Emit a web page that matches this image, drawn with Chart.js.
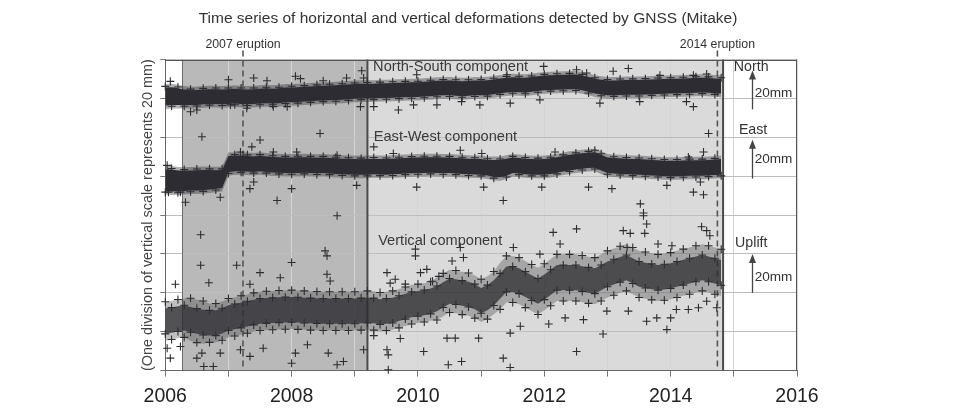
<!DOCTYPE html>
<html><head><meta charset="utf-8">
<script src="https://cdn.jsdelivr.net/npm/chart.js@4.4.1/dist/chart.umd.min.js"></script>
<style>html,body{margin:0;padding:0;background:#fff}#wrap{width:961px;height:408px}</style>
</head><body><div id="wrap"><canvas id="c" width="961" height="408"></canvas></div>
<script>
// ---------- DATA ----------
const titleText = 'Time series of horizontal and vertical deformations detected by GNSS (Mitake)';
const yAxisTitle = '(One division of vertical scale represents 20 mm)';
const xTickLabels = ['2006','2008','2010','2012','2014','2016'];

// sample epochs (decimal years)
const epochs = [
2006.0,2006.1,2006.2,2006.3,2006.4,2006.5,2006.6,2006.7,2006.8,2006.9,
2007.0,2007.1,2007.2,2007.3,2007.4,2007.5,2007.6,2007.7,2007.8,2007.9,
2008.0,2008.1,2008.2,2008.3,2008.4,2008.5,2008.6,2008.7,2008.8,2008.9,
2009.0,2009.1,2009.2,2009.3,2009.4,2009.5,2009.6,2009.7,2009.8,2009.9,
2010.0,2010.1,2010.2,2010.3,2010.4,2010.5,2010.6,2010.7,2010.8,2010.9,
2011.0,2011.1,2011.2,2011.3,2011.4,2011.5,2011.6,2011.7,2011.8,2011.9,
2012.0,2012.1,2012.2,2012.3,2012.4,2012.5,2012.6,2012.7,2012.8,2012.9,
2013.0,2013.1,2013.2,2013.3,2013.4,2013.5,2013.6,2013.7,2013.8,2013.9,
2014.0,2014.1,2014.2,2014.3,2014.4,2014.5,2014.6,2014.7,2014.8];

// North-South component: centre of the dense band and its half-width (mm, on the stacked scale)
const nsMid = [
141.0,141.2,141.0,140.6,140.4,140.5,140.8,141.0,141.0,140.8,
141.0,141.2,141.0,140.8,141.0,141.2,141.4,141.2,141.4,141.8,
141.9,142.0,142.2,142.4,142.6,142.8,142.9,143.0,143.2,143.4,
143.6,143.8,143.8,143.8,144.0,144.0,144.2,144.3,144.4,144.5,
144.5,144.8,145.0,145.3,145.4,145.4,145.2,145.0,145.2,145.4,
145.4,145.6,146.0,146.5,146.9,147.1,147.0,146.8,147.2,147.6,
148.0,148.2,148.3,148.4,148.5,148.5,148.0,147.2,146.3,145.8,
145.4,145.5,145.6,145.7,145.7,145.7,145.8,146.0,146.1,146.2,
146.3,146.4,146.5,146.6,146.8,146.9,146.7,146.5,146.3];
const nsSpread = [
4.6,4.6,4.3,4.0,3.8,3.8,3.8,3.8,3.8,3.8,
3.8,3.8,3.8,3.8,3.8,3.8,3.8,3.8,3.8,3.8,
3.8,3.8,3.8,3.8,3.8,3.8,3.8,3.8,3.8,3.8,
3.8,3.8,3.8,3.8,3.8,3.8,3.8,3.8,3.8,3.8,
3.8,3.8,3.8,3.8,3.8,3.8,3.8,3.8,3.8,3.8,
3.8,3.8,3.8,3.8,3.8,3.8,3.8,3.8,3.8,3.8,
3.8,3.8,3.8,3.8,3.8,3.8,3.8,3.8,3.8,3.8,
3.8,3.8,3.8,3.8,3.8,3.8,3.8,3.8,3.8,3.8,
3.8,3.8,3.8,3.8,3.8,3.8,3.8,3.8,3.8];
const nsOutliers = [
[2006.08,148.8],[2007.0,149.6],[2007.40,150.5],[2007.61,149.1],[2008.06,151.4],[2008.14,150.2],
[2008.50,149.1],[2008.87,150.5],[2009.11,154.3],[2009.14,150.5],[2009.98,152.2],
[2006.40,133.2],[2006.50,134.1],[2007.03,136.7],[2007.29,135.0],[2007.71,135.8],[2007.93,135.8],
[2009.09,135.8],[2009.30,135.8],[2009.69,134.1],[2009.93,136.7],[2010.30,136.7],
[2006.58,120.3],[2008.45,122.0],
[2011.99,156.5],[2012.51,154.8],[2012.67,153.1],[2013.09,154.0],[2013.33,155.4],[2011.41,152.2],
[2013.83,151.9],[2014.57,152.6],[2014.36,151.9],
[2010.98,136.7],[2011.46,137.6],[2011.93,139.3],[2012.88,137.6],[2013.51,138.4],[2014.25,138.4],
[2014.36,135.8],[2010.69,138.4],[2014.60,122.0]];

// East-West component
const ewMid = [
98.0,97.8,97.5,97.6,97.8,97.9,98.0,98.2,98.3,98.6,
106.2,106.5,106.6,106.4,106.2,106.5,106.2,105.9,105.8,105.6,
105.6,105.7,105.8,105.6,105.5,105.6,105.4,105.2,105.0,104.9,
104.8,104.7,104.8,105.0,104.9,104.8,105.0,105.2,105.4,105.5,
105.6,105.7,105.8,105.7,105.6,105.6,105.4,105.2,105.0,104.9,
104.8,104.4,104.0,103.9,104.6,105.6,105.4,105.0,104.8,104.7,
104.8,105.2,105.8,106.4,107.0,107.4,107.8,108.2,108.3,107.0,
105.6,105.4,105.2,105.0,104.9,104.8,104.6,104.4,104.2,104.0,
103.9,104.0,104.1,104.2,104.2,104.2,104.4,104.6,104.8];
const ewSpread = [
5.6,5.6,5.4,5.2,5.2,5.2,5.2,5.0,4.8,4.6,
4.2,4.0,4.0,4.0,4.0,4.0,4.0,4.0,4.0,4.0,
4.0,4.0,4.0,4.0,4.0,4.0,4.0,4.0,4.0,4.0,
4.0,4.0,4.0,4.0,4.0,4.0,4.0,4.0,4.0,4.0,
4.0,4.0,4.0,4.0,4.0,4.0,4.0,4.0,4.0,4.0,
4.0,4.0,4.4,4.4,4.4,4.0,4.0,4.0,4.0,4.0,
4.0,4.0,4.0,4.0,4.0,4.0,4.0,4.0,4.0,4.0,
4.0,4.0,4.0,4.0,4.0,4.0,4.0,4.0,4.0,4.0,
4.0,4.0,4.0,4.0,4.0,4.0,4.0,4.0,4.0];
const ewOutliers = [
[2006.03,105.6],[2007.19,112.5],[2007.37,115.1],[2007.50,118.6],[2007.71,112.5],[2008.08,112.5],
[2008.72,110.8],[2009.30,115.1],[2009.61,111.7],
[2006.32,86.6],[2006.87,89.2],[2007.34,93.6],[2007.40,97.0],[2007.77,87.5],[2008.0,93.6],
[2009.03,95.3],[2009.98,94.4],[2006.05,91.8],[2006.24,91.8],
[2010.67,113.4],[2011.01,111.7],[2012.17,112.5],[2012.80,113.4],[2014.52,112.5],[2014.28,109.9],
[2011.04,94.4],[2011.35,87.5],[2011.96,94.4],[2012.70,94.4],[2013.07,93.6],[2013.52,85.8],
[2013.57,81.1],[2014.36,91.8],[2014.52,90.5],[2013.94,95.3],[2014.47,97.0]];

// Vertical component
const vtMid = [
25.4,26.0,26.6,27.1,26.2,25.4,24.8,24.5,24.5,25.6,
27.1,27.8,28.5,29.2,30.0,30.6,30.8,31.0,31.2,31.3,
31.4,31.2,31.0,30.8,30.7,30.6,30.6,30.6,30.6,30.6,
30.6,30.8,31.0,30.8,30.2,30.6,31.0,32.0,33.0,34.0,
34.5,35.0,35.7,37.0,39.0,40.9,40.5,39.8,39.2,38.0,
36.0,37.5,40.0,43.5,47.0,47.0,46.1,44.4,42.6,40.9,
43.0,45.4,47.8,47.8,47.8,47.8,47.2,46.6,46.1,47.8,
49.6,50.8,52.0,53.0,51.3,49.6,49.0,48.4,47.8,48.2,
48.7,49.6,50.5,51.3,52.2,53.0,52.2,51.3,50.4];
const vtSpread = [
10,10,10,10,11,11,11,10,10,10,
10,10,10,10,10,10,10,10,10,10,
10,10,10,10,10,10,10,10,10,10,
10,10,10,10,10,10,10,10,10,10,
10,10,10,11,11,11,11,11,11,11,
11,11,11,12,12,12,12,12,12,12,
12,12,12,12,12,12,12,12,12,12,
12,12,12,12,12,12,12,12,12,12,
12,12,12,12,12,12,12,12,12];
const vtOutliers = [
[2006.56,69.9],[2006.56,54.2],[2007.13,54.2],[2006.69,45.2],[2006.16,44.4],[2008.0,55.6],
[2008.53,61.6],[2008.56,59.0],[2008.72,79.7],[2007.50,50.4],[2007.82,47.8],[2008.56,49.6],
[2008.61,46.1],[2009.51,50.4],[2009.96,62.5],[2009.96,59.0],[2010.04,50.4],[2010.14,52.1],[2007.34,44.4],
[2006.08,6.4],[2006.61,2.1],[2006.76,2.1],[2006.50,6.4],[2006.58,9.0],[2007.34,7.3],[2008.0,3.8],
[2008.06,9.0],[2008.72,3.0],[2008.82,4.7],[2008.58,9.0],[2009.53,0.4],[2009.53,8.1],[2009.51,10.7],
[2009.14,10.7],[2010.09,9.8],[2006.24,12.4],[2006.03,11.5],[2006.87,9.0],[2007.19,10.7],[2008.25,13.3],[2007.55,11.5],
[2010.67,63.3],[2010.72,58.2],[2010.54,56.4],[2011.51,63.3],[2012.14,71.1],[2012.51,72.9],[2012.25,65.1],
[2013.25,72.0],[2013.36,70.6],[2013.57,79.7],[2013.62,75.4],[2013.59,70.6],[2013.80,65.1],[2014.02,64.2],
[2014.49,74.0],[2014.57,72.0],[2014.62,69.4],[2013.31,63.3],[2011.93,59.9],
[2010.48,3.0],[2010.69,4.7],[2011.35,6.4],[2011.46,1.6],[2011.46,19.3],[2010.46,16.7],[2010.59,16.7],
[2010.96,16.7],[2011.62,22.8],[2012.07,24.0],[2012.51,9.8],[2012.93,18.8],[2013.62,25.4],[2013.78,27.1],
[2013.94,21.1],[2014.0,27.1],[2014.09,31.4],[2014.28,31.4],[2014.44,32.3],[2014.57,35.7],[2014.73,32.3],
[2012.62,26.2],[2012.33,27.1],[2012.99,30.6],[2013.33,30.6],
[2009.56,45.0],[2009.64,47.0],[2009.80,44.5],[2010.23,46.0],[2010.33,48.5],[2009.30,18.0],[2009.72,16.5]];

// periods and eruptions
const periodStart = [2006.27, 2009.2];
const periodEnd   = [2009.2, 2014.83];
const eruptionDates  = [2007.23, 2014.74];
const eruptionLabels = ['2007 eruption', '2014 eruption'];

// ---------- CHART ----------
const FONT = '"Liberation Sans", Arial, Helvetica, sans-serif';
Chart.defaults.font.family = FONT;
const INK = '#2d2d32';
const HALO = 1.8;     // soft edge width of the dense bands (mm)
const VT_CORE = 6.5;  // dense core of the vertical cloud (mm)

const edge = (mid, off, sign, add, parity) => epochs
  .map((t, i) => ({x: t, y: mid[i] + sign * ((off ? off[i] : 0) + add), i}))
  .filter(p => p.i % 2 === parity);
const bandPts = (mid, off, sign, add) => epochs.map((t, i) => ({x: t, y: mid[i] + sign * ((off ? off[i] : 0) + add)}));
const outPts = arr => arr.map(p => ({x: p[0], y: p[1]}));

function band(mid, off, add, color) {
  return [
    {data: bandPts(mid, off, -1, add), showLine: true, pointRadius: 0, borderWidth: 0, fill: false, order: 3},
    {data: bandPts(mid, off, 1, add), showLine: true, pointRadius: 0, borderWidth: 0, fill: '-1', backgroundColor: color, order: 3}
  ];
}
function crosses(data, r) {
  return {data, showLine: false, pointStyle: 'cross', pointRadius: r || 4, pointHoverRadius: r || 4,
          borderColor: INK, borderWidth: 1.1, clip: 6, order: 0};
}

const datasets = [
  ...band(nsMid, nsSpread, HALO, 'rgba(45,45,50,0.38)'),
  ...band(nsMid, nsSpread, 0, INK),
  crosses(edge(nsMid, nsSpread, 1, 0.6, 0)), crosses(edge(nsMid, nsSpread, -1, 0.6, 1)), crosses(outPts(nsOutliers)),
  ...band(ewMid, ewSpread, HALO, 'rgba(45,45,50,0.38)'),
  ...band(ewMid, ewSpread, 0, INK),
  crosses(edge(ewMid, ewSpread, 1, 0.6, 1)), crosses(edge(ewMid, ewSpread, -1, 0.6, 0)), crosses(outPts(ewOutliers)),
  ...band(vtMid, vtSpread, 0, 'rgba(45,45,50,0.3)'),
  ...band(vtMid, null, VT_CORE, 'rgba(45,45,50,0.75)'),
  crosses(edge(vtMid, vtSpread, 1, 0, 0)), crosses(edge(vtMid, vtSpread, -1, 0, 1)),
  crosses(edge(vtMid, null, 1, VT_CORE, 1)), crosses(edge(vtMid, null, -1, VT_CORE, 0)),
  crosses(outPts(vtOutliers))
];

function arrow(ctx, x, y0, y1) {
  ctx.beginPath(); ctx.moveTo(x, y0); ctx.lineTo(x, y1 + 6); ctx.stroke();
  ctx.beginPath(); ctx.moveTo(x, y1); ctx.lineTo(x - 3.5, y1 + 9); ctx.lineTo(x + 3.5, y1 + 9); ctx.closePath(); ctx.fill();
}

const deco = {
  id: 'deco',
  beforeDraw(chart) {
    const {ctx, chartArea: a, scales: {x}} = chart;
    ctx.save();
    const cols = ['#b9b9b9', '#dadada'];
    for (let i = 0; i < periodStart.length; i++) {
      const x0 = x.getPixelForValue(periodStart[i]), x1 = x.getPixelForValue(periodEnd[i]);
      ctx.fillStyle = cols[i];
      ctx.fillRect(x0, a.top, x1 - x0, a.bottom - a.top);
    }
    ctx.restore();
  },
  beforeDatasetsDraw(chart) {
    const {ctx, chartArea: a, scales: {x}} = chart;
    ctx.save();
    ctx.strokeStyle = '#6a6a6a'; ctx.lineWidth = 1;
    let px = Math.round(x.getPixelForValue(periodStart[0])) + 0.5;
    ctx.beginPath(); ctx.moveTo(px, a.top); ctx.lineTo(px, a.bottom); ctx.stroke();
    ctx.strokeStyle = '#4a4a4a'; ctx.lineWidth = 2;
    for (const t of [periodEnd[0], periodEnd[1]]) {
      px = x.getPixelForValue(t);
      ctx.beginPath(); ctx.moveTo(px, a.top); ctx.lineTo(px, a.bottom); ctx.stroke();
    }
    ctx.strokeStyle = '#555'; ctx.lineWidth = 1.6; ctx.setLineDash([6, 4]);
    ctx.fillStyle = '#333'; ctx.font = '12.3px ' + FONT; ctx.textAlign = 'center'; ctx.textBaseline = 'middle';
    eruptionDates.forEach((t, i) => {
      const ex = x.getPixelForValue(t);
      ctx.beginPath(); ctx.moveTo(ex, a.top - 9); ctx.lineTo(ex, a.bottom); ctx.stroke();
      ctx.fillText(eruptionLabels[i], ex, a.top - 15);
    });
    ctx.restore();
  },
  afterDatasetsDraw(chart) {
    const {ctx, chartArea: a, scales: {x, y}} = chart;
    ctx.save();
    ctx.strokeStyle = '#555'; ctx.lineWidth = 1;
    ctx.beginPath();
    ctx.moveTo(a.left, Math.round(a.top) + 0.5); ctx.lineTo(a.right, Math.round(a.top) + 0.5);
    ctx.moveTo(Math.round(a.right) - 0.5, a.top); ctx.lineTo(Math.round(a.right) - 0.5, a.bottom);
    ctx.stroke();
    ctx.fillStyle = '#3a3a3a'; ctx.textAlign = 'left'; ctx.textBaseline = 'middle';
    ctx.font = '14.6px ' + FONT;
    ctx.fillText('North-South component', x.getPixelForValue(2009.29), y.getPixelForValue(156.4));
    ctx.fillText('East-West component', x.getPixelForValue(2009.30), y.getPixelForValue(120.1));
    ctx.fillText('Vertical component', x.getPixelForValue(2009.37), y.getPixelForValue(66.8));
    ctx.font = '14.2px ' + FONT; ctx.fillStyle = '#333';
    ctx.fillText('North', x.getPixelForValue(2015.0), y.getPixelForValue(156.1));
    ctx.fillText('East', x.getPixelForValue(2015.08), y.getPixelForValue(123.8));
    ctx.fillText('Uplift', x.getPixelForValue(2015.02), y.getPixelForValue(65.8));
    ctx.font = '13.6px ' + FONT;
    ctx.fillText('20mm', x.getPixelForValue(2015.33), y.getPixelForValue(142.9));
    ctx.fillText('20mm', x.getPixelForValue(2015.33), y.getPixelForValue(108.7));
    ctx.fillText('20mm', x.getPixelForValue(2015.33), y.getPixelForValue(48.2));
    ctx.strokeStyle = '#444'; ctx.fillStyle = '#444'; ctx.lineWidth = 1.3;
    const ax = Math.round(x.getPixelForValue(2015.29)) + 0.5;
    arrow(ctx, ax, y.getPixelForValue(134.4), y.getPixelForValue(154.4));
    arrow(ctx, ax, y.getPixelForValue(98.8), y.getPixelForValue(118.8));
    arrow(ctx, ax, y.getPixelForValue(40.0), y.getPixelForValue(60.0));
    ctx.restore();
  }
};

new Chart(document.getElementById('c'), {
  type: 'scatter',
  data: {datasets},
  options: {
    responsive: false, animation: false, devicePixelRatio: 1,
    events: [],
    layout: {padding: {left: 139, right: 164, top: 0, bottom: -8}},
    plugins: {
      legend: {display: false}, tooltip: {enabled: false},
      title: {display: true, text: titleText, color: '#333', font: {size: 15.5, weight: 'normal', family: FONT},
              padding: {top: 9, bottom: 32}}
    },
    scales: {
      x: {
        type: 'linear', min: 2006, max: 2016,
        ticks: {stepSize: 1, autoSkip: false, maxRotation: 0, padding: 8, color: '#222',
                font: {size: 19.5, family: FONT},
                callback: v => { const s = String(Math.round(v)); return xTickLabels.includes(s) ? s : ''; }},
        grid: {color: '#d4d4d4', lineWidth: 1, tickLength: 6, tickColor: '#777'},
        border: {display: true, color: '#666', width: 1}
      },
      y: {
        min: 0, max: 160,
        ticks: {stepSize: 20, display: false},
        grid: {color: '#bdbdbd', lineWidth: 1, tickLength: 5, tickColor: '#777'},
        border: {display: true, color: '#666', width: 1},
        title: {display: true, text: yAxisTitle, color: '#444', font: {size: 14.4, family: FONT}, padding: {top: 0, bottom: 4}}
      }
    }
  },
  plugins: [deco]
});
</script>
</body></html>
